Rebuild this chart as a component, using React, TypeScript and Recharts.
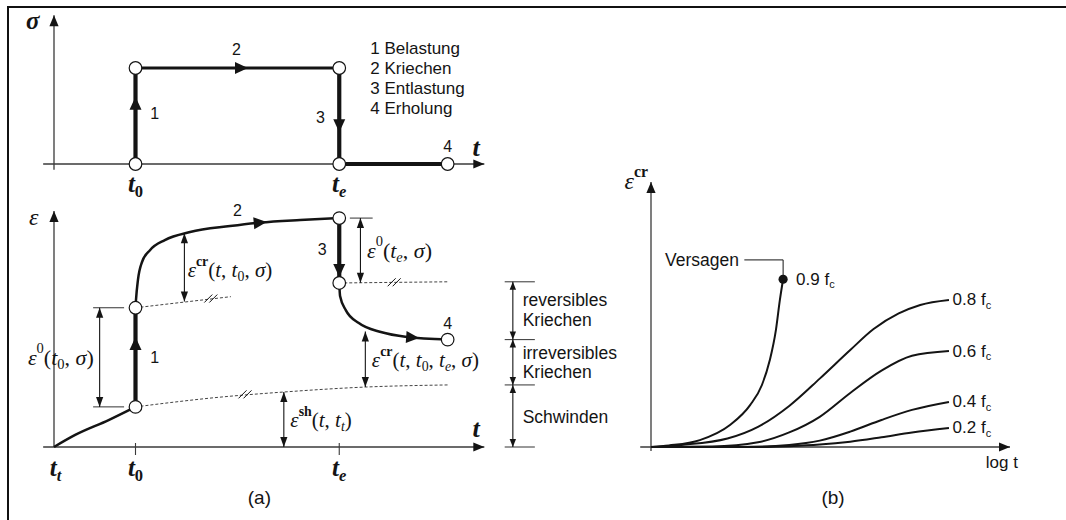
import React from "react";
import { ComposedChart, Line, Scatter, XAxis, YAxis, ReferenceLine, ReferenceDot } from "recharts";

const W = 1066;
const H = 520;
const INK = "#141414";
const SANS = "'Liberation Sans', Arial, sans-serif";
const SERIF = "'Liberation Serif', 'Times New Roman', serif";

// ---- panel (a): time in arbitrary units, t_t = 0
const T0 = 10;
const TE = 35;
const TR = 48.3;

// stress history sigma(t)
const stressLoad = [{ t: T0, s: 0 }, { t: T0, s: 1 }];
const stressHold = [{ t: T0, s: 1 }, { t: TE, s: 1 }];
const stressUnload = [{ t: TE, s: 1 }, { t: TE, s: 0 }];
const stressRest = [{ t: TE, s: 0 }, { t: TR, s: 0 }];
const stressNodes = [{ t: T0, s: 0 }, { t: T0, s: 1 }, { t: TE, s: 1 }, { t: TE, s: 0 }, { t: TR, s: 0 }];
const stressArrows = [{ t: T0, s: 0.7, deg: -90 }, { t: 23.8, s: 1, deg: 0 }, { t: TE, s: 0.33, deg: 90 }];
const stressSteps = ["1 Belastung", "2 Kriechen", "3 Entlastung", "4 Erholung"];

// strain history eps(t)
const earlyShrinkage = [{ t: 0, e: 0 }, { t: 2.6, e: 5.1 }, { t: 6.7, e: 11.4 }, { t: T0, e: 17 }];
const elasticLoad = [{ t: T0, e: 17 }, { t: T0, e: 59 }];
const creepStrain = [
  { t: T0, e: 59 }, { t: 10.06, e: 62.3 }, { t: 10.3, e: 70.8 }, { t: 10.8, e: 78.4 }, { t: 11.8, e: 83.5 },
  { t: 13.6, e: 87.7 }, { t: 16.7, e: 91.1 }, { t: 21.6, e: 93.6 }, { t: 25.3, e: 95.1 }, { t: 30.2, e: 96.2 }, { t: TE, e: 97 },
];
const elasticUnload = [{ t: TE, e: 97 }, { t: TE, e: 69.5 }];
const recovery = [
  { t: TE, e: 69.5 }, { t: 35.1, e: 64 }, { t: 35.8, e: 58 }, { t: 37.4, e: 52.5 }, { t: 40.1, e: 48.7 },
  { t: 43.3, e: 46.6 }, { t: TR, e: 45.5 },
];
const shrinkage = [{ t: T0, e: 17 }, { t: 20, e: 21 }, { t: 28.2, e: 23.3 }, { t: 38.2, e: 25.4 }, { t: TR, e: 26.3 }];
const creepBase = [{ t: T0, e: 59 }, { t: 21.7, e: 63.7 }];
const recoveryBase = [{ t: TE, e: 69.5 }, { t: TR, e: 70 }];
const strainNodes = [{ t: T0, e: 17 }, { t: T0, e: 59 }, { t: TE, e: 97 }, { t: TE, e: 69.5 }, { t: TR, e: 45.5 }];
const strainArrows = [{ t: T0, e: 46.6, deg: -90 }, { t: 26.1, e: 95.3, deg: -5 }, { t: TE, e: 72, deg: 90 }, { t: 44.8, e: 46.2, deg: 4 }];
const breakMarks = [{ t: 19.3, e: 62.9 }, { t: 23.5, e: 22.3 }, { t: 41.8, e: 69.8 }];

// dimension arrows: position in t, from/to in eps
const strainDims = [
  { t: 5.6, from: 17, to: 59 },
  { t: 16, from: 61.6, to: 90.6 },
  { t: 37.6, from: 69.6, to: 97 },
  { t: 38.2, from: 25.4, to: 48.9 },
  { t: 28.2, from: 0, to: 23.3 },
];
const bracketLevels = [70, 45.5, 26.3, 0];
const bracketTexts = [
  { e: 62.3, text: "reversibles" },
  { e: 53.8, text: "Kriechen" },
  { e: 39.8, text: "irreversibles" },
  { e: 31.8, text: "Kriechen" },
  { e: 12.7, text: "Schwinden" },
];

// ---- panel (b): creep strain over log t for several stress levels
const stressLevels = ["0.9", "0.8", "0.6", "0.4", "0.2"];
const creep09 = [
  { u: 0, c: 0 }, { u: 0.5, c: 0.6 }, { u: 1.36, c: 2.6 }, { u: 2.2, c: 8.3 }, { u: 2.76, c: 15.8 },
  { u: 3.09, c: 23.4 }, { u: 3.31, c: 32.8 }, { u: 3.48, c: 44.2 }, { u: 3.59, c: 55.5 }, { u: 3.68, c: 63.3 },
];
const creep08 = [
  { u: 0, c: 0 }, { u: 0.85, c: 0.8 }, { u: 2.13, c: 3.2 }, { u: 2.98, c: 7.6 }, { u: 3.85, c: 15.5 },
  { u: 4.7, c: 25.8 }, { u: 5.55, c: 36.6 }, { u: 6.2, c: 44.5 }, { u: 6.9, c: 50.4 }, { u: 7.5, c: 53.6 }, { u: 8.3, c: 55.5 },
];
const creep06 = [
  { u: 0, c: 0 }, { u: 1.7, c: 0.2 }, { u: 2.98, c: 1.8 }, { u: 3.85, c: 5.5 }, { u: 4.7, c: 11.4 },
  { u: 5.55, c: 20.4 }, { u: 6.42, c: 28.8 }, { u: 7.27, c: 34.4 }, { u: 8.3, c: 36.2 },
];
const creep04 = [
  { u: 0, c: 0 }, { u: 2.5, c: 0 }, { u: 3.85, c: 0.8 }, { u: 4.7, c: 2.4 }, { u: 5.55, c: 5.8 },
  { u: 6.42, c: 10.2 }, { u: 7.27, c: 14 }, { u: 8.3, c: 17 },
];
const creep02 = [
  { u: 0, c: 0 }, { u: 3, c: 0 }, { u: 3.85, c: 0.3 }, { u: 4.7, c: 0.9 }, { u: 5.55, c: 2 },
  { u: 6.42, c: 3.7 }, { u: 7.27, c: 5.5 }, { u: 8.3, c: 7.2 },
];
const creepCurves = [creep09, creep08, creep06, creep04, creep02];
const failurePoint = [{ u: 3.68, c: 63.3 }];
const failureLeader = [{ u: 2.6, c: 70.6 }, { u: 3.68, c: 70.6 }, { u: 3.68, c: 63.3 }];

// hidden axes span the whole canvas: origin pixel and pixels per unit
const spanX = (origin: number, ppu: number): [number, number] => [-origin / ppu, (W - origin) / ppu];
const spanY = (origin: number, ppu: number): [number, number] => [-(H - origin) / ppu, origin / ppu];

const head = (tx: number, ty: number, ang: number, len: number, half: number) => {
  const c = Math.cos(ang);
  const s = Math.sin(ang);
  const bx = tx - c * len;
  const by = ty - s * len;
  return `${tx},${ty} ${bx - s * half},${by + c * half} ${bx + s * half},${by - c * half}`;
};

const plainShape = (width: number, color = INK) => (p: any) => (
  <line x1={p.x1} y1={p.y1} x2={p.x2} y2={p.y2} stroke={color} strokeWidth={width} />
);

const axisShape = (p: any) => {
  const a = Math.atan2(p.y2 - p.y1, p.x2 - p.x1);
  return (
    <g>
      <line x1={p.x1} y1={p.y1} x2={p.x2} y2={p.y2} stroke="#3a3a3a" strokeWidth={1.3} />
      <polygon points={head(p.x2, p.y2, a, 11, 4.6)} fill={INK} />
    </g>
  );
};

const dimShape = (len: number, half: number) => (p: any) => {
  const a = Math.atan2(p.y2 - p.y1, p.x2 - p.x1);
  return (
    <g>
      <line x1={p.x1} y1={p.y1} x2={p.x2} y2={p.y2} stroke={INK} strokeWidth={1.1} />
      <polygon points={head(p.x2, p.y2, a, len, half)} fill={INK} />
      <polygon points={head(p.x1, p.y1, a + Math.PI, len, half)} fill={INK} />
    </g>
  );
};

const ring = (p: any) => <circle cx={p.cx} cy={p.cy} r={6.3} fill="#fff" stroke={INK} strokeWidth={1.2} />;
const blackDot = (p: any) => <circle cx={p.cx} cy={p.cy} r={4.6} fill={INK} />;

// small TeX-like runs: ^{..} superscript, _{..} subscript
function mathRuns(src: string) {
  const runs: { s: string; pos: string }[] = [];
  let i = 0;
  while (i < src.length) {
    const ch = src[i];
    if ((ch === "^" || ch === "_") && src[i + 1] === "{") {
      const end = src.indexOf("}", i);
      runs.push({ s: src.slice(i + 2, end), pos: ch === "^" ? "sup" : "sub" });
      i = end + 1;
    } else {
      runs.push({ s: ch, pos: "base" });
      i += 1;
    }
  }
  return runs;
}

const math = (src: string, size: number, anchor = "start", weight = 400) => (cx: number, cy: number) => {
  let shift = 0;
  return (
    <text x={cx} y={cy} fontFamily={SERIF} fontSize={size} fontWeight={weight} textAnchor={anchor} dominantBaseline="central" fill={INK} style={{ whiteSpace: "pre" }}>
      {mathRuns(src).map((r, k) => {
        const target = r.pos === "sup" ? -0.42 * size : r.pos === "sub" ? 0.3 * size : 0;
        const dy = target - shift;
        shift = target;
        const italic = r.s.length === 1 && /[A-Za-z\u03b1-\u03c9]/.test(r.s);
        const small = r.pos !== "base";
        return (
          <tspan key={k} dy={dy} fontStyle={italic ? "italic" : "normal"} fontSize={small ? size * 0.66 : size} fontWeight={small && r.s.length > 1 ? 700 : weight}>
            {r.s}
          </tspan>
        );
      })}
    </text>
  );
};

const sans = (text: string, size = 17, anchor = "start") => (cx: number, cy: number) => (
  <text x={cx} y={cy} fontFamily={SANS} fontSize={size} textAnchor={anchor} dominantBaseline="central" fill={INK}>
    {text}
  </text>
);

const fc = (level: string) => (cx: number, cy: number) => (
  <text x={cx} y={cy} fontFamily={SANS} fontSize={17} dominantBaseline="central" fill={INK}>
    {level} f<tspan fontSize={11} dy={5}>c</tspan>
  </text>
);

const note = (key: string, xId: string, yId: string, x: number, y: number, draw: (cx: number, cy: number) => React.ReactElement) => (
  <ReferenceDot key={key} xAxisId={xId} yAxisId={yId} x={x} y={y} r={0} ifOverflow="visible" shape={(p: any) => draw(p.cx, p.cy)} />
);

const arrowMark = (key: string, xId: string, yId: string, x: number, y: number, deg: number) =>
  note(key, xId, yId, x, y, (cx, cy) => <polygon points={head(cx, cy, (deg * Math.PI) / 180, 13, 6)} fill={INK} />);

const seg = (key: string, xId: string, yId: string, a: [number, number], b: [number, number], shape: any) => (
  <ReferenceLine
    key={key}
    xAxisId={xId}
    yAxisId={yId}
    segment={[{ x: a[0], y: a[1] }, { x: b[0], y: b[1] }]}
    ifOverflow="visible"
    shape={shape}
  />
);

export default function App() {
  const lineProps = { dot: false, activeDot: false, isAnimationActive: false, stroke: INK } as const;
  const dashed = { ...lineProps, type: "linear" as const, stroke: "#444", strokeWidth: 1, strokeDasharray: "3 2" };

  return (
    <div style={{ position: "absolute", left: 0, top: 0, width: W, height: H, overflow: "hidden", background: "#fff" }}>
      <div style={{ position: "absolute", left: 7, top: 6, width: W, height: H, borderTop: "2px solid #111", borderLeft: "2px solid #111" }} />
      <div style={{ position: "absolute", left: 0, top: 0 }}>
        <ComposedChart width={W} height={H} margin={{ top: 0, right: 0, bottom: 0, left: 0 }}>
          <XAxis xAxisId="a" type="number" dataKey="t" domain={spanX(54, 8.15)} allowDataOverflow hide />
          <XAxis xAxisId="b" type="number" dataKey="u" domain={spanX(651, 35.9)} allowDataOverflow hide />
          <YAxis yAxisId="sig" type="number" dataKey="s" domain={spanY(164, 96)} allowDataOverflow hide />
          <YAxis yAxisId="eps" type="number" dataKey="e" domain={spanY(447, 2.36)} allowDataOverflow hide />
          <YAxis yAxisId="cr" type="number" dataKey="c" domain={spanY(447, 2.65)} allowDataOverflow hide />

          {/* stress history */}
          {seg("sigAxis", "a", "sig", [0, -0.06], [0, 1.55], axisShape)}
          {seg("sigT", "a", "sig", [-1.33, 0], [52.8, 0], axisShape)}
          <Line xAxisId="a" yAxisId="sig" data={stressLoad} dataKey="s" type="linear" strokeWidth={4.2} {...lineProps} />
          <Line xAxisId="a" yAxisId="sig" data={stressHold} dataKey="s" type="linear" strokeWidth={2.8} {...lineProps} />
          <Line xAxisId="a" yAxisId="sig" data={stressUnload} dataKey="s" type="linear" strokeWidth={4.2} {...lineProps} />
          <Line xAxisId="a" yAxisId="sig" data={stressRest} dataKey="s" type="linear" strokeWidth={4.2} {...lineProps} />
          {stressArrows.map((a, i) => arrowMark(`sa${i}`, "a", "sig", a.t, a.s, a.deg))}
          <Scatter xAxisId="a" yAxisId="sig" data={stressNodes} shape={ring} isAnimationActive={false} />

          {note("sigLbl", "a", "sig", -2.6, 1.5, math("σ", 25, "middle", 700))}
          {note("sigTl", "a", "sig", 51.8, 0.18, math("t", 26, "middle", 700))}
          {note("sigT0", "a", "sig", T0, -0.2, math("t_{0}", 25, "middle", 700))}
          {note("sigTe", "a", "sig", TE, -0.2, math("t_{e}", 25, "middle", 700))}
          {note("s1", "a", "sig", 11.8, 0.53, sans("1", 16))}
          {note("s2", "a", "sig", 22.4, 1.19, sans("2", 16, "middle"))}
          {note("s3", "a", "sig", 32.7, 0.48, sans("3", 16, "middle"))}
          {note("s4", "a", "sig", 48.3, 0.18, sans("4", 16, "middle"))}
          {stressSteps.map((s, i) => note(`leg${i}`, "a", "sig", 38.8, 1.208 - i * 0.209, sans(s, 17)))}

          {/* strain history */}
          {seg("epsAxis", "a", "eps", [0, 0], [0, 100], axisShape)}
          {seg("epsT", "a", "eps", [-1.33, 0], [52.8, 0], axisShape)}
          {seg("tick0", "a", "eps", [T0, 1.7], [T0, -3.4], plainShape(1.1, "#3a3a3a"))}
          {seg("tickE", "a", "eps", [TE, 1.7], [TE, -3.4], plainShape(1.1, "#3a3a3a"))}

          <Line xAxisId="a" yAxisId="eps" data={shrinkage} dataKey="e" {...dashed} type="monotone" />
          <Line xAxisId="a" yAxisId="eps" data={creepBase} dataKey="e" {...dashed} />
          <Line xAxisId="a" yAxisId="eps" data={recoveryBase} dataKey="e" {...dashed} />
          {breakMarks.map((b, i) =>
            note(`br${i}`, "a", "eps", b.t, b.e, (cx, cy) => (
              <g stroke={INK} strokeWidth={1}>
                <line x1={cx - 7} y1={cy + 4} x2={cx + 1} y2={cy - 4} />
                <line x1={cx - 2} y1={cy + 4} x2={cx + 6} y2={cy - 4} />
              </g>
            ))
          )}

          <Line xAxisId="a" yAxisId="eps" data={earlyShrinkage} dataKey="e" type="monotone" strokeWidth={2.5} {...lineProps} />
          <Line xAxisId="a" yAxisId="eps" data={elasticLoad} dataKey="e" type="linear" strokeWidth={4.2} {...lineProps} />
          <Line xAxisId="a" yAxisId="eps" data={creepStrain} dataKey="e" type="monotone" strokeWidth={2.5} {...lineProps} />
          <Line xAxisId="a" yAxisId="eps" data={elasticUnload} dataKey="e" type="linear" strokeWidth={4.2} {...lineProps} />
          <Line xAxisId="a" yAxisId="eps" data={recovery} dataKey="e" type="monotone" strokeWidth={2.5} {...lineProps} />
          {strainArrows.map((a, i) => arrowMark(`ea${i}`, "a", "eps", a.t, a.e, a.deg))}
          <Scatter xAxisId="a" yAxisId="eps" data={strainNodes} shape={ring} isAnimationActive={false} />

          {seg("ext1", "a", "eps", [4.8, 59], [8.6, 59], plainShape(1, "#333"))}
          {seg("ext2", "a", "eps", [4.8, 17], [8.6, 17], plainShape(1, "#333"))}
          {seg("ext3", "a", "eps", [36.3, 97], [39.1, 97], plainShape(1, "#333"))}
          {strainDims.map((d, i) => seg(`dim${i}`, "a", "eps", [d.t, d.from], [d.t, d.to], dimShape(10, 3.6)))}

          {bracketLevels.map((lv, i) => seg(`bt${i}`, "a", "eps", [55.3, lv], [59, lv], plainShape(1, "#333")))}
          {bracketLevels.slice(1).map((lv, i) => seg(`bd${i}`, "a", "eps", [56.3, lv], [56.3, bracketLevels[i]], dimShape(8, 3.2)))}
          {bracketTexts.map((b, i) => note(`bx${i}`, "a", "eps", 57.5, b.e, sans(b.text, 17.5)))}

          {note("epsLbl", "a", "eps", -2.5, 97.5, math("ε", 24, "middle"))}
          {note("epsTl", "a", "eps", 51.8, 8, math("t", 26, "middle", 700))}
          {note("tt", "a", "eps", 0.2, -8.5, math("t_{t}", 25, "middle", 700))}
          {note("t0", "a", "eps", T0, -8.5, math("t_{0}", 25, "middle", 700))}
          {note("te", "a", "eps", TE, -8.5, math("t_{e}", 25, "middle", 700))}
          {note("e1", "a", "eps", 11.8, 38.1, sans("1", 16))}
          {note("e2", "a", "eps", 22.5, 100.4, sans("2", 16, "middle"))}
          {note("e3", "a", "eps", 32.9, 83.5, sans("3", 16, "middle"))}
          {note("e4", "a", "eps", 48.3, 52.5, sans("4", 16, "middle"))}
          {note("m1", "a", "eps", -3.2, 38.1, math("ε^{0}(t_{0}, σ)", 22))}
          {note("m2", "a", "eps", 16.4, 75, math("ε^{cr}(t, t_{0}, σ)", 21))}
          {note("m3", "a", "eps", 38.4, 83.5, math("ε^{0}(t_{e}, σ)", 22))}
          {note("m4", "a", "eps", 39, 36.9, math("ε^{cr}(t, t_{0}, t_{e}, σ)", 21))}
          {note("m5", "a", "eps", 29, 11.4, math("ε^{sh}(t, t_{t})", 21))}
          {note("capA", "a", "eps", 25.2, -21.6, sans("(a)", 19, "middle"))}

          {/* creep curves over log t */}
          {seg("crAxis", "b", "cr", [0, -1.5], [0, 100], axisShape)}
          {seg("crT", "b", "cr", [-0.3, 0], [10, 0], axisShape)}
          {creepCurves.map((d, i) => (
            <Line key={`cc${i}`} xAxisId="b" yAxisId="cr" data={d} dataKey="c" type="monotone" strokeWidth={2} {...lineProps} />
          ))}
          <Line xAxisId="b" yAxisId="cr" data={failureLeader} dataKey="c" type="linear" strokeWidth={1} {...lineProps} />
          <Scatter xAxisId="b" yAxisId="cr" data={failurePoint} shape={blackDot} isAnimationActive={false} />
          {note("vers", "b", "cr", 2.45, 70.6, sans("Versagen", 17.5, "end"))}
          {creepCurves.map((d, i) => {
            const last = d[d.length - 1];
            return note(`lv${i}`, "b", "cr", i === 0 ? last.u + 0.36 : last.u + 0.1, last.c, fc(stressLevels[i]));
          })}
          {note("crLbl", "b", "cr", -0.08, 100.5, math("ε^{cr}", 24, "end"))}
          {note("logt", "b", "cr", 10.22, -6, sans("log t", 17, "end"))}
          {note("capB", "b", "cr", 5.07, -19.2, sans("(b)", 19, "middle"))}
        </ComposedChart>
      </div>
    </div>
  );
}
